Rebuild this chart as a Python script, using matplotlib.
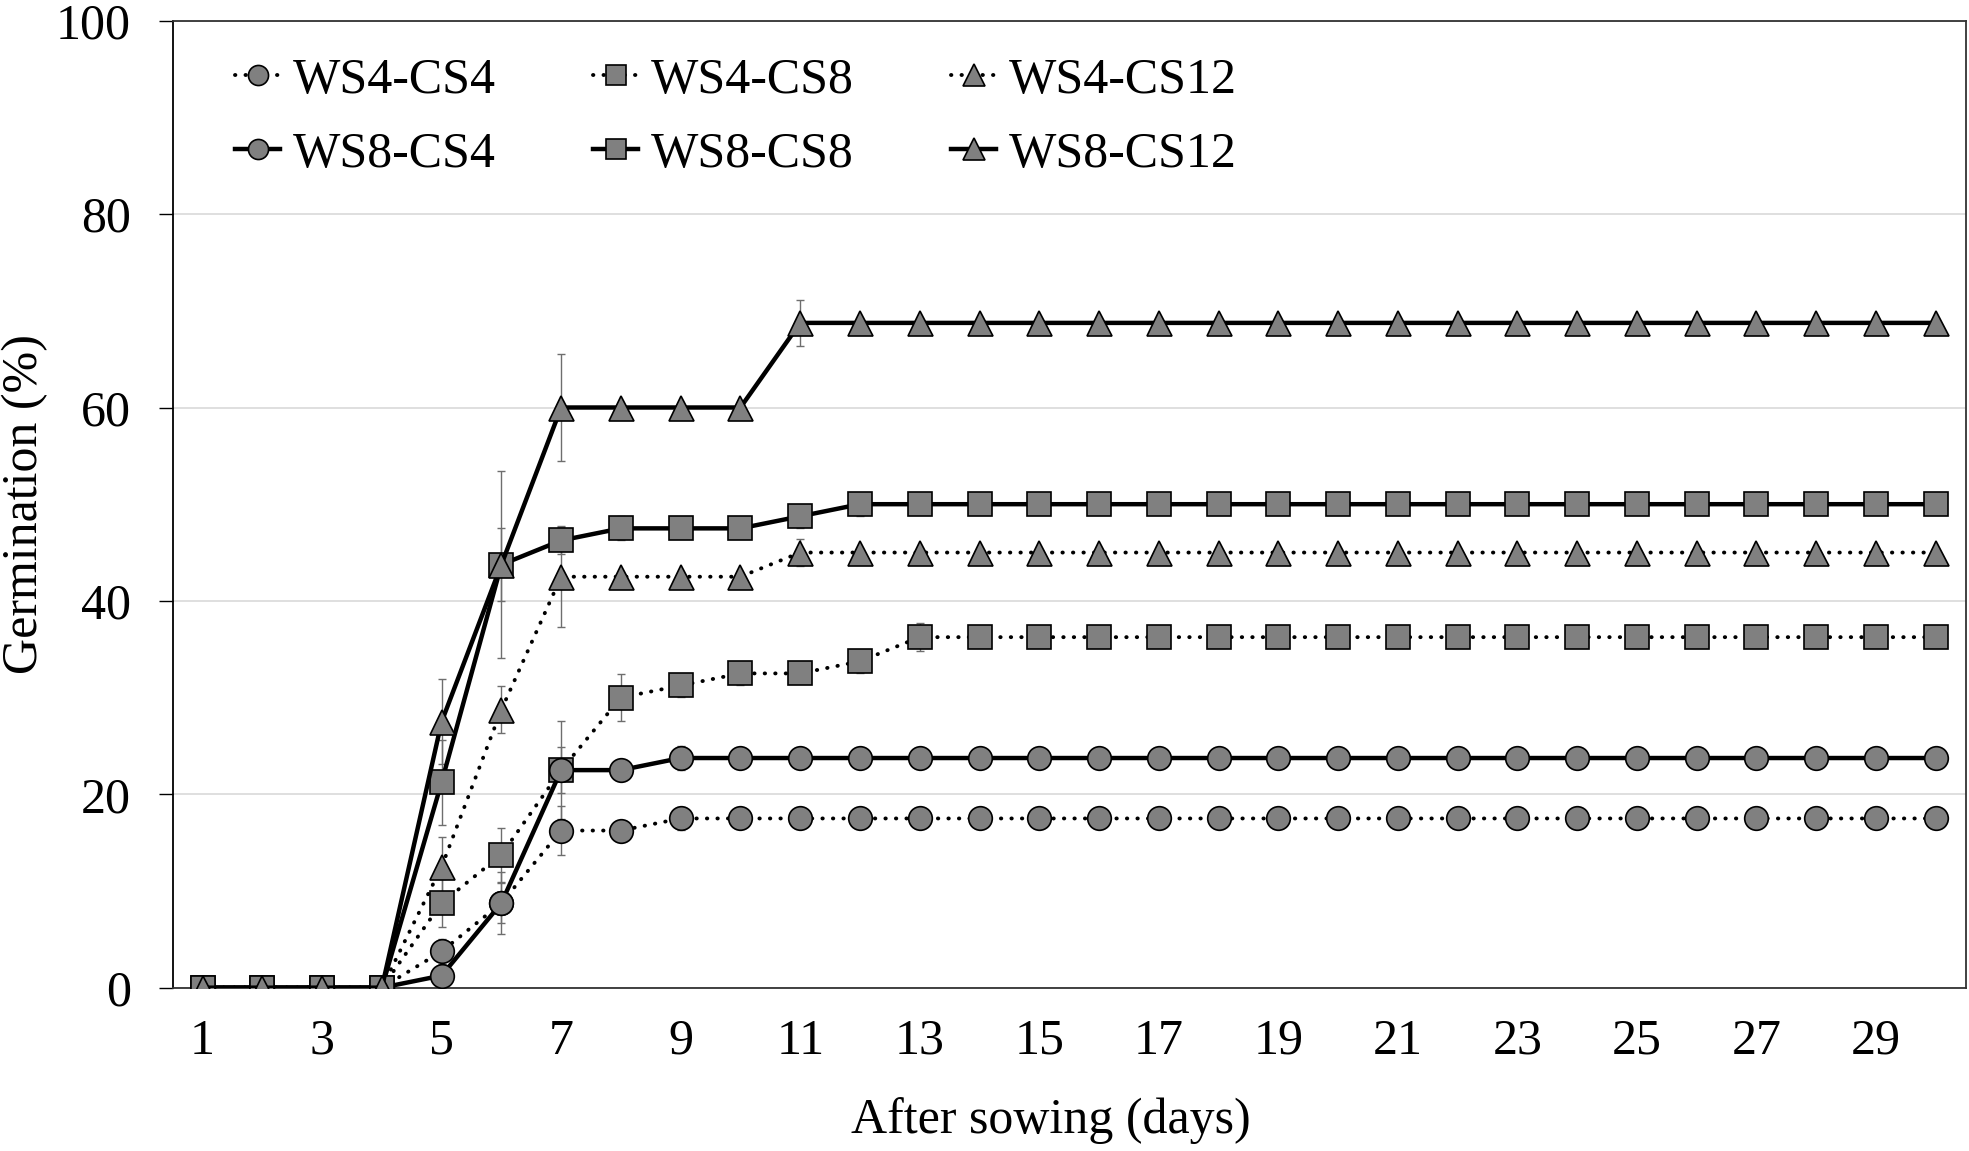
import matplotlib
matplotlib.use("Agg")
import matplotlib.pyplot as plt
import numpy as np

plt.rcParams["font.family"] = ["Liberation Serif", "DejaVu Serif"]

days = list(range(1, 31))

ws4_cs4 = [0, 0, 0, 0, 3.75, 8.75, 16.25, 16.25] + [17.5] * 22
ws8_cs4 = [0, 0, 0, 0, 1.25, 8.75, 22.5, 22.5] + [23.75] * 22
ws4_cs8 = [0, 0, 0, 0, 8.75, 13.75, 22.5, 30, 31.25, 32.5, 32.5, 33.75] + [36.25] * 18
ws8_cs8 = [0, 0, 0, 0, 21.25, 43.75, 46.25, 47.5, 47.5, 47.5, 48.75] + [50] * 19
ws4_cs12 = [0, 0, 0, 0, 12.5, 28.75, 42.5, 42.5, 42.5, 42.5] + [45] * 20
ws8_cs12 = [0, 0, 0, 0, 27.5, 43.75, 60, 60, 60, 60] + [68.75] * 20

ws4_cs4_err = [0, 0, 0, 0, 1.3, 2.1, 2.5, 0, 1.2] + [0] * 21
ws8_cs4_err = [0, 0, 0, 0, 0.5, 3.2, 2.4, 0, 1.2] + [0] * 21
ws4_cs8_err = [0, 0, 0, 0, 2.5, 2.8, 5.1, 2.45, 1.2, 1.2, 0, 1.2, 1.45] + [0] * 17
ws8_cs8_err = [0, 0, 0, 0, 4.4, 3.75, 1.4, 1.25, 0, 0, 1.2, 1.2] + [0] * 18
ws4_cs12_err = [0, 0, 0, 0, 3.1, 2.4, 5.2, 0, 0, 0, 1.4] + [0] * 19
ws8_cs12_err = [0, 0, 0, 0, 4.4, 9.7, 5.5, 0, 0, 0, 2.4] + [0] * 19

DOTTED = (0, (0.1, 2.6))

series = [
    ("WS4-CS4", ws4_cs4, ws4_cs4_err, "o", DOTTED, 2.8),
    ("WS4-CS8", ws4_cs8, ws4_cs8_err, "s", DOTTED, 2.8),
    ("WS4-CS12", ws4_cs12, ws4_cs12_err, "^", DOTTED, 2.8),
    ("WS8-CS4", ws8_cs4, ws8_cs4_err, "o", "-", 3.2),
    ("WS8-CS8", ws8_cs8, ws8_cs8_err, "s", "-", 3.2),
    ("WS8-CS12", ws8_cs12, ws8_cs12_err, "^", "-", 3.2),
]
marker_sizes = {"o": 17, "s": 17, "^": 18}

fig = plt.figure(figsize=(19.69, 11.51), dpi=100)
ax = fig.add_axes([0.0877, 0.1419, 0.9106, 0.8401])

handles = {}
for i, (name, vals, errs, mk, ls, lw) in enumerate(series):
    ax.errorbar(days, vals, yerr=errs, fmt="none", ecolor="#6e6e6e",
                elinewidth=1.0, capsize=3.2, capthick=1.0, zorder=2 + i * 0.1)
    (ln,) = ax.plot(days, vals, linestyle=ls, linewidth=lw, color="black",
                    dash_capstyle="round", marker=mk,
                    markersize=marker_sizes[mk], markerfacecolor="#808080",
                    markeredgecolor="black", markeredgewidth=1.2,
                    label=name, zorder=3 + i * 0.1)
    handles[name] = ln

ax.set_xlim(0.5, 30.5)
ax.set_ylim(0, 100)
ax.set_yticks(range(0, 101, 20))
ax.set_xticks(range(1, 30, 2))
ax.tick_params(axis="y", length=10, width=1.0, direction="out", pad=20, labelsize=36)
ax.tick_params(axis="x", length=0, pad=22, labelsize=36)

ax.yaxis.grid(True, color="#d9d9d9", linewidth=1.2)
ax.set_axisbelow(True)
for side in ["top", "right", "bottom"]:
    ax.spines[side].set_color("#333333")
    ax.spines[side].set_linewidth(1.3)
ax.spines["left"].set_color("black")
ax.spines["left"].set_linewidth(1.3)

ax.set_ylabel("Germination (%)", fontsize=36, va="center")
ax.yaxis.set_label_coords(-0.0824, 0.5)
ax.set_xlabel("After sowing (days)", fontsize=36, va="center")
ax.xaxis.set_label_coords(0.49, -0.1375)

order = ["WS4-CS4", "WS8-CS4", "WS4-CS8", "WS8-CS8", "WS4-CS12", "WS8-CS12"]
ax.legend([handles[n] for n in order], order, ncol=3, loc="upper left",
          bbox_to_anchor=(0.035, 0.962), frameon=False, fontsize=36,
          handlelength=0.9, handletextpad=0.25, columnspacing=1.95,
          labelspacing=0.55, borderpad=0, borderaxespad=0, markerscale=0.85)

fig.savefig("out.png", dpi=100)
